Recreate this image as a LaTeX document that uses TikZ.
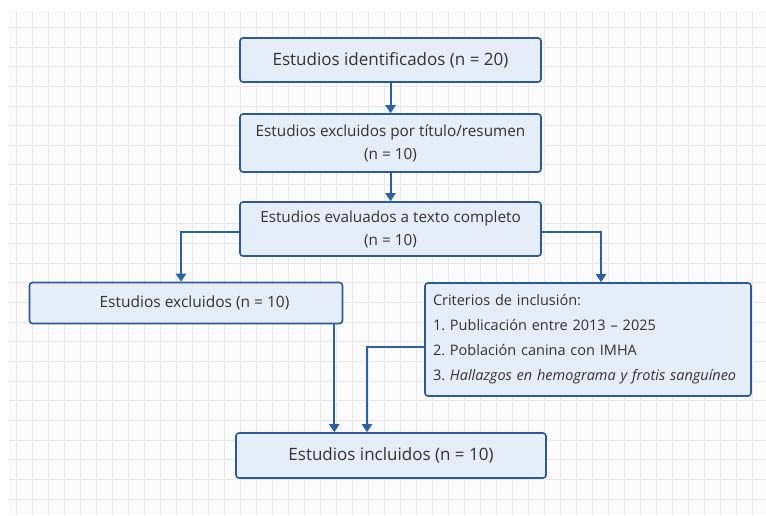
\documentclass[tikz,border=0pt]{standalone}
\usepackage{fontspec}
\setmainfont{Open Sans}
\usetikzlibrary{arrows.meta}
\definecolor{boxfill}{HTML}{E4EDF8}
\definecolor{boxline}{HTML}{2C5A94}
\definecolor{arrowblue}{HTML}{2A61A6}
\definecolor{gridgray}{HTML}{E8E8E8}
\definecolor{gridbg}{HTML}{FBFBFB}
\definecolor{textgray}{HTML}{333333}
\frenchspacing

\begin{document}
\begin{tikzpicture}[x = 1pt, y = -1pt,
  flowbox/.style = {draw = boxline, fill = boxfill, line width = 1.6pt, rounded corners = 3pt,
    text = textgray, font = \fontsize{15.3}{23}\selectfont, align = center, inner sep = 0pt},
  bigtext/.style = {font = \fontsize{17}{23}\selectfont},
  flowarrow/.style = {draw = arrowblue, line width = 2pt, -{Triangle[width = 10pt, length = 8pt]}}]

\useasboundingbox (0, 0) rectangle (766, 515);
\fill [white] (0, 0) rectangle (766, 515);

% background grid
\fill [gridbg] (9, 11) rectangle (766, 515);
\foreach \gx in {16, 32, ..., 752} {
  \draw [gridgray, line width = 0.8pt] (\gx, 11) -- (\gx, 515);
}
\foreach \k in {0, ..., 24} {
  \pgfmathsetmacro{\gy}{27.3 + 19.65*\k}
  \draw [gridgray, line width = 0.8pt] (9, \gy) -- (766, \gy);
}

\node [flowbox, bigtext, minimum width = 301, minimum height = 44] (ident) at (390.5, 60) {Estudios identificados (n = 20)};
\node [flowbox, minimum width = 301, minimum height = 58] (title) at (390.5, 143) {Estudios excluidos por título/resumen\\(n = 10)};
\node [flowbox, minimum width = 301, minimum height = 54] (eval) at (390.5, 229) {Estudios evaluados a texto completo\\(n = 10)};

\node [flowbox, font = \fontsize{15.5}{23}\selectfont, minimum width = 313, minimum height = 41] (excl) at (186, 303) {\hspace*{17pt}Estudios excluidos (n = 10)};
\node [flowbox, minimum width = 326, minimum height = 113, text width = 310pt, align = left,
  font = \fontsize{14.5}{25}\selectfont] (crit) at (588, 339.5)
  {Criterios de inclusión:\\
   1. Publicación entre 2013 – 2025\\
   2. Población canina con IMHA\\
   3. \textit{Hallazgos en hemograma y frotis sanguíneo}};

\node [flowbox, bigtext, minimum width = 310, minimum height = 45] (incl) at (391, 455.5) {Estudios incluidos (n = 10)};

\draw [flowarrow] (ident) -- (title);
\draw [flowarrow] (title) -- (eval);
\draw [flowarrow] ([yshift = -3] eval.west) -| ([xshift = -5] excl.north);
\draw [flowarrow] ([yshift = -3] eval.east) -| ([xshift = 13] crit.north);

\draw [flowarrow] ([xshift = -9] excl.south east) -- ([xshift = -9] excl.south east |- incl.north);
\draw [flowarrow] ([yshift = -7.5] crit.west) -| ([xshift = -24] incl.north);

\end{tikzpicture}
\end{document}
